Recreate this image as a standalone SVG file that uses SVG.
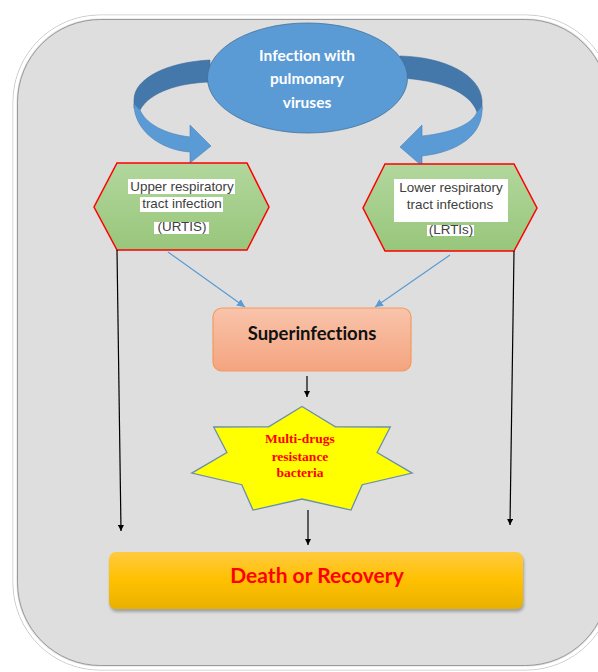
<svg xmlns="http://www.w3.org/2000/svg" width="598" height="672" viewBox="0 0 598 672">
  <defs>
    <linearGradient id="gHex" x1="0" y1="0" x2="0" y2="1">
      <stop offset="0" stop-color="#b2d79d"/>
      <stop offset="1" stop-color="#98c67b"/>
    </linearGradient>
    <linearGradient id="gSup" x1="0" y1="0" x2="0" y2="1">
      <stop offset="0" stop-color="#f9c4ab"/>
      <stop offset="1" stop-color="#f4a47f"/>
    </linearGradient>
    <linearGradient id="gDeath" x1="0" y1="0" x2="0" y2="1">
      <stop offset="0" stop-color="#ffca3e"/>
      <stop offset="0.5" stop-color="#ffc000"/>
      <stop offset="1" stop-color="#e8b100"/>
    </linearGradient>
    <filter id="shadow" x="-5%" y="-20%" width="110%" height="150%">
      <feGaussianBlur stdDeviation="1.5"/>
    </filter>
    <marker id="ah" viewBox="0 0 10 10" refX="10" refY="5" markerWidth="6" markerHeight="6" orient="auto" markerUnits="userSpaceOnUse">
      <path d="M0,0 L10,5 L0,10 Z" fill="#000"/>
    </marker>
    <marker id="ahb" viewBox="0 0 10 10" refX="10" refY="5" markerWidth="8" markerHeight="8" orient="auto" markerUnits="userSpaceOnUse">
      <path d="M0,0 L10,5 L0,10 Z" fill="#5b9bd5"/>
    </marker>
  </defs>
  <style>
    text { font-variant-ligatures: none; }
    .hex { fill: url(#gHex); stroke: #ff0000; stroke-width: 1.5; }
    .ht { font-family: "Liberation Sans", Arial, sans-serif; font-size: 13.4px; fill: #404040; text-anchor: middle; }
    .hl { fill: #ffffff; }
    .blk { stroke: #000; stroke-width: 1.2; fill: none; marker-end: url(#ah); }
    .blu { stroke: #5b9bd5; stroke-width: 1.2; fill: none; marker-end: url(#ahb); }
    .dark { fill: #4477aa; stroke: #3d6d9c; stroke-width: 0.6; }
    .light { fill: #5b9bd5; stroke: #4a82b8; stroke-width: 0.6; }
  </style>

  <rect width="598" height="672" fill="#ffffff"/>
  <!-- background panel -->
  <g id="panel">
    <rect x="13" y="15" width="600" height="655" rx="87" fill="none" stroke="#c8c8c8" stroke-width="1"/>
    <rect x="15" y="17" width="596" height="651" rx="85" fill="#dedede" stroke="#ffffff" stroke-width="3"/>
    <rect x="17.5" y="19.5" width="591" height="646" rx="83" fill="none" stroke="#9a9a9a" stroke-width="1"/>
  </g>

  <!-- curved arrows -->
  <g id="curved-arrows">
    <path class="dark" d="M210,60 C168,62 134,78 134,100 L134,108 L140,110 C150,92 178,83 210,82 Z"/>
    <path class="light" d="M134,104 C134,130 160,150 190,152 L190,163 L211,146 L190,125 L190,137 C165,134 146,124 140,110 Z"/>
    <path class="dark" d="M400,56 C445,57 480,75 482,100 L482,110 L477,112 C470,92 440,80 400,78 Z"/>
    <path class="light" d="M482,106 C484,135 458,152 422,156 L422,166 L400,147 L422,125 L422,136 C450,133 472,125 477,112 Z"/>
  </g>

  <g id="infection">
    <ellipse cx="307.5" cy="78" rx="100" ry="55" fill="#5b9bd5" stroke="#41719c" stroke-width="0.8"/>
    <g font-family="Lato, 'Open Sans', sans-serif" font-weight="bold" font-size="15.5" fill="#ffffff" text-anchor="middle">
      <text x="307" y="61">Infection with</text>
      <text x="307" y="84">pulmonary</text>
      <text x="307" y="108">viruses</text>
    </g>
  </g>

  <g id="urti">
    <polygon class="hex" points="117,163 247,163 269,207 247,250 117,250 94,207"/>
    <rect class="hl" x="128" y="179" width="107" height="15"/>
    <rect class="hl" x="140" y="197" width="83" height="15"/>
    <rect class="hl" x="154" y="222" width="55" height="12"/>
    <text class="ht" x="182" y="191">Upper respiratory</text>
    <text class="ht" x="182" y="208">tract infection</text>
    <text class="ht" x="182" y="231">(URTIS)</text>
  </g>

  <g id="lrti">
    <polygon class="hex" points="385,164 514,164 537,208 514,251 385,251 363,208"/>
    <rect class="hl" x="394" y="179" width="114" height="43"/>
    <rect class="hl" x="427" y="225" width="47" height="11"/>
    <text class="ht" x="451" y="192">Lower respiratory</text>
    <text class="ht" x="450" y="209">tract infections</text>
    <text class="ht" x="451" y="234">(LRTIs)</text>
  </g>

  <g id="connectors">
    <line class="blu" x1="168" y1="252" x2="245" y2="307"/>
    <line class="blu" x1="450" y1="255" x2="375" y2="307"/>
    <line class="blk" x1="117" y1="250" x2="121" y2="531"/>
    <line class="blk" x1="514" y1="251" x2="510" y2="525"/>
    <line class="blk" x1="307" y1="376" x2="307" y2="397"/>
    <line class="blk" x1="308" y1="510" x2="308" y2="545"/>
  </g>

  <g id="superinfections">
    <rect x="213" y="308" width="198" height="63" rx="9" fill="url(#gSup)" stroke="#f09a62" stroke-width="1.2"/>
    <text x="312" y="340" font-family="Lato, 'Open Sans', sans-serif" font-weight="bold" font-size="18.5" fill="#111" text-anchor="middle">Superinfections</text>
  </g>

  <g id="mdr">
    <path d="M302,406.5 L335.4,426.8 L390.3,427 L377.1,452.5 L412.2,473.1 L362.2,484.7 L351,510.1 L302,499 L253,510.1 L241.8,484.7 L191.8,473.1 L226.9,452.5 L213.7,427 L268.6,426.8 Z" fill="#ffff00" stroke="#6a8fae" stroke-width="1.3"/>
    <g font-family="'Liberation Serif', 'Times New Roman', serif" font-weight="bold" font-size="13.5" fill="#ff0000" text-anchor="middle">
      <text x="300" y="443">Multi-drugs</text>
      <text x="300" y="461">resistance</text>
      <text x="300" y="477">bacteria</text>
    </g>
  </g>

  <g id="death">
    <rect x="110" y="555" width="414" height="57" rx="7" fill="#7a7a7a" opacity="0.6" filter="url(#shadow)"/>
    <rect x="109" y="552" width="414" height="57" rx="7" fill="url(#gDeath)"/>
    <text x="317" y="583" font-family="Lato, 'Open Sans', sans-serif" font-weight="bold" font-size="21" fill="#ff0000" text-anchor="middle">Death or Recovery</text>
  </g>
</svg>
